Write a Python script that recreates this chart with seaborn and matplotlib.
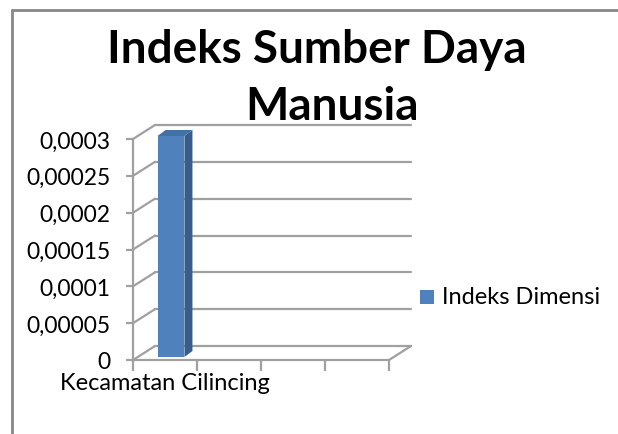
import matplotlib
matplotlib.use("Agg")
import matplotlib.pyplot as plt
import seaborn as sns
from matplotlib.patches import Polygon, Rectangle
from matplotlib.transforms import ScaledTranslation

categories = ["Kecamatan Cilincing"]
values = [0.0003]
series_name = "Indeks Dimensi"
y_ticks = [0, 0.00005, 0.0001, 0.00015, 0.0002, 0.00025, 0.0003]
y_labels = ["0", "0,00005", "0,0001", "0,00015", "0,0002", "0,00025", "0,0003"]
title_lines = ["Indeks Sumber Daya", "Manusia"]

sns.set_style("white")
plt.rcParams["font.family"] = ["Lato", "DejaVu Sans"]
plt.rcParams["text.color"] = "black"

front = "#4F81BD"
side = "#385D8A"
top = "#4470A8"
grid = "#A0A0A0"

W, H = 618, 435
fig = plt.figure(figsize=(W / 100, H / 100), dpi=100)
ax = fig.add_axes([133 / W, (H - 361) / H, 256 / W, 221 / H])

sns.barplot(x=categories, y=values, ax=ax, color=front, width=0.42,
            saturation=1, edgecolor="none")
ax.set_xlim(-0.5, 3.5)
ax.set_ylim(0, 0.0003)

# pixel -> data units
ux = 4 / 256
uy = 0.0003 / 221

# shift bar back a bit (depth)
shift = ScaledTranslation(6 / 100, 3 / 100, fig.dpi_scale_trans)
bar = ax.patches[0]
bar.set_transform(ax.transData + shift)
bar.set_clip_on(False)
x0 = bar.get_x()
x1 = x0 + bar.get_width()
v = bar.get_height()
dx, dy = 8 * ux, 6 * uy
ax.add_patch(Polygon([(x1, 0), (x1 + dx, dy), (x1 + dx, v + dy), (x1, v)],
                     closed=True, facecolor=side, edgecolor="none",
                     transform=ax.transData + shift, clip_on=False, zorder=3))
ax.add_patch(Polygon([(x0, v), (x1, v), (x1 + dx, v + dy), (x0 + dx, v + dy)],
                     closed=True, facecolor=top, edgecolor="none",
                     transform=ax.transData + shift, clip_on=False, zorder=3))
bar.set_zorder(3)

# back wall, gridlines and side wall diagonals
bx, by = 22 * ux, 14 * uy
xl, xr = -0.5, 3.5
for t in y_ticks:
    ax.plot([xl + bx, xr + bx], [t + by, t + by], color=grid, lw=1.6,
            clip_on=False, zorder=1)
    ax.plot([xl, xl + bx], [t, t + by], color=grid, lw=1.6,
            clip_on=False, zorder=1)
# floor
ax.plot([xl, xr], [0, 0], color=grid, lw=1.6, clip_on=False, zorder=2)
ax.plot([xr, xr + bx], [0, by], color=grid, lw=1.6, clip_on=False, zorder=2)

for s in ["top", "right", "bottom"]:
    ax.spines[s].set_visible(False)
ax.spines["left"].set_color(grid)
ax.spines["left"].set_linewidth(1.6)

ax.set_yticks(y_ticks)
ax.set_yticklabels(y_labels)
ax.set_xticks([-0.5, 0.5, 1.5, 2.5, 3.5])
ax.set_xticklabels([])
ax.tick_params(axis="y", direction="out", length=5, width=1.6, color=grid,
               labelsize=16.5, pad=11, left=True, labelcolor="black")
ax.tick_params(axis="x", direction="out", length=8, width=1.6, color=grid,
               bottom=True)
ax.set_xlabel("")
ax.set_ylabel("")

# category label
ax.text(0, 0, categories[0], transform=ax.transData + ScaledTranslation(0, -23 / 100, fig.dpi_scale_trans),
        ha="center", va="center", fontsize=17, color="black")

# title
fig.text(317 / W, 1 - 50 / H, title_lines[0], ha="center", va="center",
         fontsize=33, fontweight="bold", color="black")
fig.text(332 / W, 1 - 107 / H, title_lines[1], ha="center", va="center",
         fontsize=33, fontweight="bold", color="black")

# legend
fig.patches.append(Rectangle((420 / W, 1 - 305 / H), 14 / W, 14 / H,
                             transform=fig.transFigure, facecolor=front,
                             edgecolor="none"))
fig.text(442 / W, 1 - 298 / H, series_name, ha="left", va="center",
         fontsize=17, color="black")

# chart border
fig.add_artist(plt.Line2D([12 / W, 12 / W], [0, 1 - 11 / H],
                          transform=fig.transFigure, color="#888888", lw=2))
fig.add_artist(plt.Line2D([12 / W, 1], [1 - 11 / H, 1 - 11 / H],
                          transform=fig.transFigure, color="#888888", lw=2))

fig.savefig("out.png", dpi=100)
